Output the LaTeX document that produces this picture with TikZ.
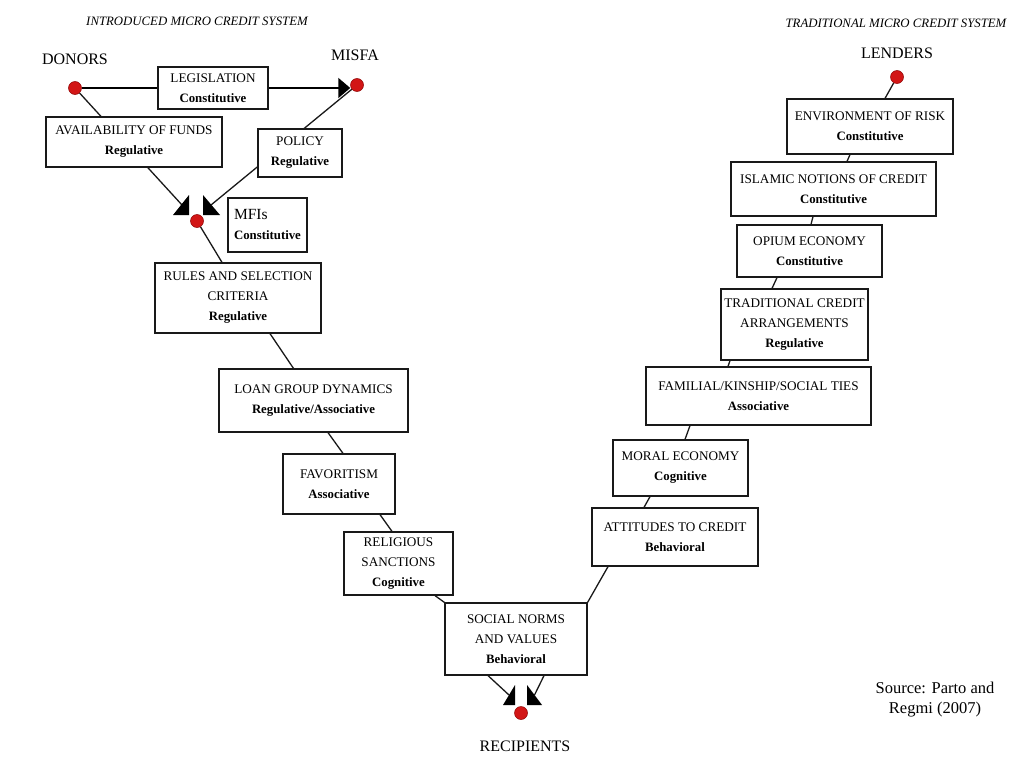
\documentclass[tikz,border=0pt]{standalone}
\usepackage{fontspec}
\setmainfont{Liberation Serif}
\usetikzlibrary{arrows.meta,backgrounds}
\definecolor{dotred}{RGB}{210,22,22}
\definecolor{dotedge}{RGB}{140,0,0}
\definecolor{edge}{RGB}{25,25,25}
\newcommand\boxsub[1]{{\fontsize{12.8}{20}\selectfont\bfseries #1}}
\begin{document}
\begin{tikzpicture}[x=1pt,y=-1pt,
  box/.style={draw=edge,line width=1.2pt,fill=white,inner sep=2pt,align=center,font=\fontsize{13.2}{20}\selectfont},
  dot/.style={circle,fill=dotred,draw=dotedge,line width=0.5pt,minimum size=13pt,inner sep=0pt},
  conn/.style={draw=edge,line width=1.3pt},
  thick conn/.style={draw=black,line width=2pt},
  lbl/.style={font=\fontsize{16}{19}\selectfont},
  ttl/.style={font=\fontsize{12.8}{14}\selectfont\itshape},
  halftri/.style={fill=black}]
\useasboundingbox (0,0) rectangle (1024,768);

% titles and labels
\node[ttl] (t1) at (197,21) {INTRODUCED MICRO CREDIT SYSTEM};
\node[ttl] (t2) at (896,23) {TRADITIONAL MICRO CREDIT SYSTEM};
\node[lbl] (donorlbl) at (75,59) {DONORS};
\node[lbl] (misfalbl) at (355,55) {MISFA};
\node[lbl] (lenderlbl) at (897,53) {LENDERS};
\node[lbl] (reciplbl) at (525,746) {RECIPIENTS};
\node[align=center,font=\fontsize{16.5}{20}\selectfont] (src) at (935,700) {Source: Parto and\\Regmi (2007)};

% boxes
\node[box,minimum width=110pt,minimum height=42pt] (legis) at (213,88) {LEGISLATION\\\boxsub{Constitutive}};
\node[box,minimum width=176pt,minimum height=50pt] (avail) at (134,142) {AVAILABILITY OF FUNDS\\\boxsub{Regulative}};
\node[box,minimum width=84pt,minimum height=48pt] (policy) at (300,153) {POLICY\\\boxsub{Regulative}};
\node[box,align=left,minimum width=79pt,minimum height=54pt] (mfis) at (267.5,225) {{\fontsize{15.5}{19}\selectfont MFIs}\\\boxsub{Constitutive}};
\node[box,minimum width=166pt,minimum height=70pt] (rules) at (238,298) {RULES AND SELECTION\\CRITERIA\\\boxsub{Regulative}};
\node[box,minimum width=189pt,minimum height=63pt] (loan) at (313.5,400.5) {LOAN GROUP DYNAMICS\\\boxsub{Regulative/Associative}};
\node[box,minimum width=112pt,minimum height=60pt] (fav) at (339,484) {FAVORITISM\\\boxsub{Associative}};
\node[box,minimum width=109pt,minimum height=63pt] (relig) at (398.5,563.5) {RELIGIOUS\\SANCTIONS\\\boxsub{Cognitive}};
\node[box,minimum width=142pt,minimum height=72pt] (social) at (516,639) {SOCIAL NORMS\\AND VALUES\\\boxsub{Behavioral}};
\node[box,minimum width=166pt,minimum height=58pt] (attit) at (675,537) {ATTITUDES TO CREDIT\\\boxsub{Behavioral}};
\node[box,minimum width=135pt,minimum height=56pt] (moral) at (680.5,468) {MORAL ECONOMY\\\boxsub{Cognitive}};
\node[box,minimum width=225pt,minimum height=58pt] (famil) at (758.5,396) {FAMILIAL/KINSHIP/SOCIAL TIES\\\boxsub{Associative}};
\node[box,minimum width=147pt,minimum height=71pt] (trad) at (794.5,324.5) {TRADITIONAL CREDIT\\ARRANGEMENTS\\\boxsub{Regulative}};
\node[box,minimum width=145pt,minimum height=52pt] (opium) at (809.5,251) {OPIUM ECONOMY\\\boxsub{Constitutive}};
\node[box,minimum width=205pt,minimum height=54pt] (islam) at (833.5,189) {ISLAMIC NOTIONS OF CREDIT\\\boxsub{Constitutive}};
\node[box,minimum width=166pt,minimum height=55pt] (envir) at (870,126.5) {ENVIRONMENT OF RISK\\\boxsub{Constitutive}};

% connector end points at the half-triangle heads
\coordinate (mfiTL) at (182,205);
\coordinate (mfiTR) at (211,205);
\coordinate (recTL) at (509,695);
\coordinate (recTR) at (534.5,695);

\fill[halftri] (189,195) -- (173,215) -- (189,215) -- cycle;
\fill[halftri] (203,195) -- (203,215) -- (220,215) -- cycle;
\fill[halftri] (515,685) -- (503,705) -- (515,705) -- cycle;
\fill[halftri] (527,685) -- (527,705) -- (542,705) -- cycle;

\node[dot] (donor) at (75,88) {};
\node[dot] (misfa) at (357,85) {};
\node[dot] (mfidot) at (197,221) {};
\node[dot] (lender) at (897,77) {};
\node[dot] (recip) at (521,713) {};

\begin{scope}[on background layer]
\fill[white] (0,0) rectangle (1024,768);
\draw[thick conn] (donor) -- (legis);
\draw[thick conn,-{Triangle[length=12pt,width=20pt]}] (legis.east) -- (misfa.west |- legis.east);
\draw[conn] (donor) -- (mfiTL);
\draw[conn] (misfa) -- (mfiTR);
\draw[conn] (mfidot) -- ([xshift=-16pt]rules.north);
\draw[conn] ([xshift=32pt]rules.south) -- ([xshift=-20pt]loan.north);
\draw[conn] ([xshift=14.5pt]loan.south) -- ([xshift=4pt]fav.north);
\draw[conn] ([xshift=41pt]fav.south) -- ([xshift=-6.5pt]relig.north);
\draw[conn] ([xshift=36.5pt]relig.south) -- (social.north west);
\draw[conn] ([xshift=-28pt]social.south) -- (recTL);
\draw[conn] ([xshift=28pt]social.south) -- (recTR);
\draw[conn] ([xshift=-67pt]attit.south) -- (social.north east);
\draw[conn] ([xshift=-30.5pt]moral.south) -- ([xshift=-31pt]attit.north);
\draw[conn] ([xshift=-68.5pt]famil.south) -- ([xshift=4.5pt]moral.north);
\draw[conn] ([xshift=-64.5pt]trad.south) -- ([xshift=-30.5pt]famil.north);
\draw[conn] ([xshift=-32.5pt]opium.south) -- ([xshift=-22.5pt]trad.north);
\draw[conn] ([xshift=-20.5pt]islam.south) -- ([xshift=1.5pt]opium.north);
\draw[conn] ([xshift=-20pt]envir.south) -- ([xshift=13.5pt]islam.north);
\draw[conn] (lender) -- ([xshift=15pt]envir.north);
\end{scope}
\end{tikzpicture}
\end{document}
